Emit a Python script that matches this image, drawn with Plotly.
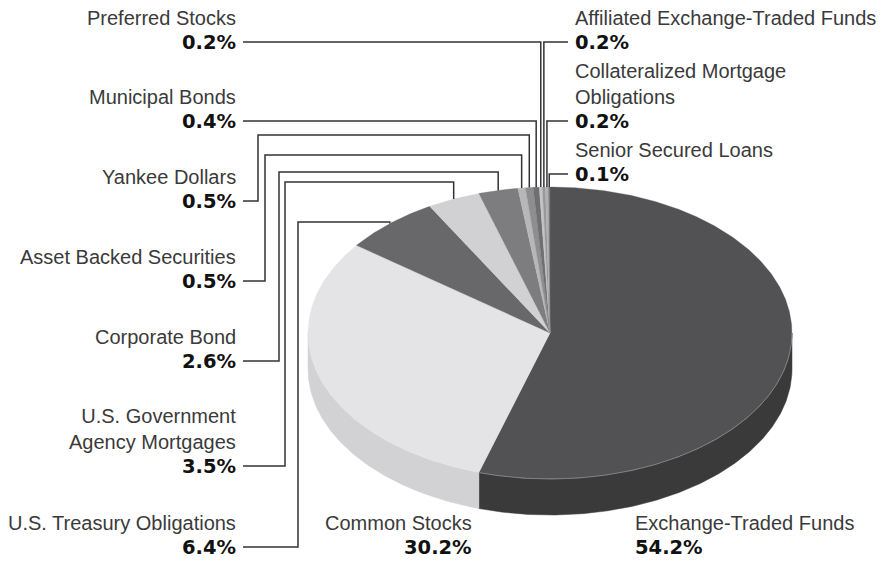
import numpy as np
import plotly.graph_objects as go

# ---------------- data ----------------
categories = [
    "Exchange-Traded Funds",
    "Common Stocks",
    "U.S. Treasury Obligations",
    "U.S. Government<br>Agency Mortgages",
    "Corporate Bond",
    "Asset Backed Securities",
    "Yankee Dollars",
    "Municipal Bonds",
    "Preferred Stocks",
    "Affiliated Exchange-Traded Funds",
    "Collateralized Mortgage<br>Obligations",
    "Senior Secured Loans",
]
values = [54.2, 30.2, 6.4, 3.5, 2.6, 0.5, 0.5, 0.4, 0.2, 0.2, 0.2, 0.1]

top_colors = ["#525254", "#e4e4e6", "#68686b", "#d1d1d3", "#7d7d80", "#b7b7ba",
              "#8e8e91", "#6f6f72", "#c4c4c7", "#98989b", "#b0b0b3", "#7a7a7d"]
side_colors = ["#3a3a3a", "#d2d2d4", "#545457", "#bdbdbf", "#69696c", "#a3a3a6",
               "#7a7a7d", "#5b5b5e", "#b0b0b3", "#848487", "#9c9c9f", "#666669"]

# ---------------- layout geometry (pixel space) ----------------
W, H = 893, 561
CX, CY, A, B, DEPTH = 550.0, 333.0, 242.0, 146.0, 36.0

# label placement: x anchor, pct-line y, optional elbow x and run y
label_layout = [
    dict(x=633, xa="left", y=547, elbow=None, run=None, leader=False),   # ETF
    dict(x=474, xa="right", y=547, elbow=None, run=None, leader=False),  # Common
    dict(x=238, xa="right", y=547, elbow=298, run=222, leader=True),
    dict(x=238, xa="right", y=466, elbow=285, run=182, leader=True),
    dict(x=238, xa="right", y=361, elbow=279, run=172, leader=True),
    dict(x=238, xa="right", y=281, elbow=265, run=155, leader=True),
    dict(x=238, xa="right", y=201, elbow=258, run=135, leader=True),
    dict(x=238, xa="right", y=121, elbow=None, run=None, leader=True),
    dict(x=238, xa="right", y=42, elbow=None, run=None, leader=True),
    dict(x=573, xa="left", y=42, elbow=None, run=None, leader=True),
    dict(x=573, xa="left", y=121, elbow=None, run=None, leader=True),
    dict(x=573, xa="left", y=174, elbow=None, run=None, leader=True),
]


def rim(theta_deg, drop=0.0):
    t = np.radians(theta_deg)
    return CX + A * np.sin(t), CY - B * np.cos(t) + drop


def arc(t0, t1, drop=0.0):
    n = max(2, int(abs(t1 - t0) * 2) + 2)
    ts = np.linspace(t0, t1, n)
    return rim(ts, drop)


total = sum(values)
angles = np.cumsum([0.0] + [v / total * 360.0 for v in values])

fig = go.Figure()

# ---- side walls (front half only: 90..270 deg clockwise from top) ----
for i, v in enumerate(values):
    t0, t1 = max(angles[i], 90.0), min(angles[i + 1], 270.0)
    if t1 <= t0:
        continue
    xt, yt = arc(t0, t1)
    xb, yb = arc(t1, t0, DEPTH)
    xs = np.concatenate([xt, xb, xt[:1]])
    ys = np.concatenate([yt, yb, yt[:1]])
    fig.add_trace(go.Scatter(x=xs, y=ys, mode="lines", fill="toself",
                             fillcolor=side_colors[i],
                             line=dict(color=side_colors[i], width=0.5),
                             hoverinfo="skip", showlegend=False))

# ---- top face slices ----
for i, v in enumerate(values):
    xt, yt = arc(angles[i], angles[i + 1])
    xs = np.concatenate([[CX], xt, [CX]])
    ys = np.concatenate([[CY], yt, [CY]])
    fig.add_trace(go.Scatter(x=xs, y=ys, mode="lines", fill="toself",
                             fillcolor=top_colors[i],
                             line=dict(color=top_colors[i], width=0.3),
                             hoverinfo="skip", showlegend=False))

# subtle highlight on the dark slice's rim
hx, hy = arc(90.0, angles[1])
fig.add_trace(go.Scatter(x=hx, y=hy, mode="lines",
                         line=dict(color="#8c8c8c", width=0.8),
                         hoverinfo="skip", showlegend=False))

# ---- leader lines ----
for i, lay in enumerate(label_layout):
    if not lay["leader"]:
        continue
    mid = (angles[i] + angles[i + 1]) / 2.0
    xm, ym = rim(mid)
    x0 = 243 if lay["xa"] == "right" else 568
    if lay["elbow"] is not None:
        px = [x0, lay["elbow"], lay["elbow"], xm, xm]
        py = [lay["y"], lay["y"], lay["run"], lay["run"], ym]
    else:
        px = [x0, xm, xm]
        py = [lay["y"], lay["y"], ym]
    fig.add_trace(go.Scatter(x=px, y=py, mode="lines",
                             line=dict(color="#333333", width=1.5),
                             hoverinfo="skip", showlegend=False))

# ---- labels ----
LINE = 24.5
for i, lay in enumerate(label_layout):
    name = categories[i]
    nlines = name.count("<br>") + 1
    name_center = lay["y"] - LINE * (nlines + 1) / 2.0
    fig.add_annotation(x=lay["x"], y=name_center, xref="x", yref="y",
                       text=name, showarrow=False, xanchor=lay["xa"],
                       yanchor="middle", align=lay["xa"],
                       font=dict(family="Liberation Sans", size=20, color="#3a3a3a"))
    fig.add_annotation(x=lay["x"], y=lay["y"], xref="x", yref="y",
                       text=f"{values[i]:.1f}%", showarrow=False, xanchor=lay["xa"],
                       yanchor="middle", align=lay["xa"],
                       font=dict(family="DejaVu Sans", size=19.5, color="#111111",
                                 weight="bold"))

fig.update_layout(
    width=W, height=H,
    margin=dict(l=0, r=0, t=0, b=0),
    paper_bgcolor="white", plot_bgcolor="white",
    xaxis=dict(range=[0, W], visible=False, fixedrange=True),
    yaxis=dict(range=[H, 0], visible=False, fixedrange=True),
    showlegend=False,
)

fig.write_html("out.html",
               config={"displayModeBar": False},
               post_script="document.body.style.margin='0';"
                           "document.body.style.overflow='hidden';")
